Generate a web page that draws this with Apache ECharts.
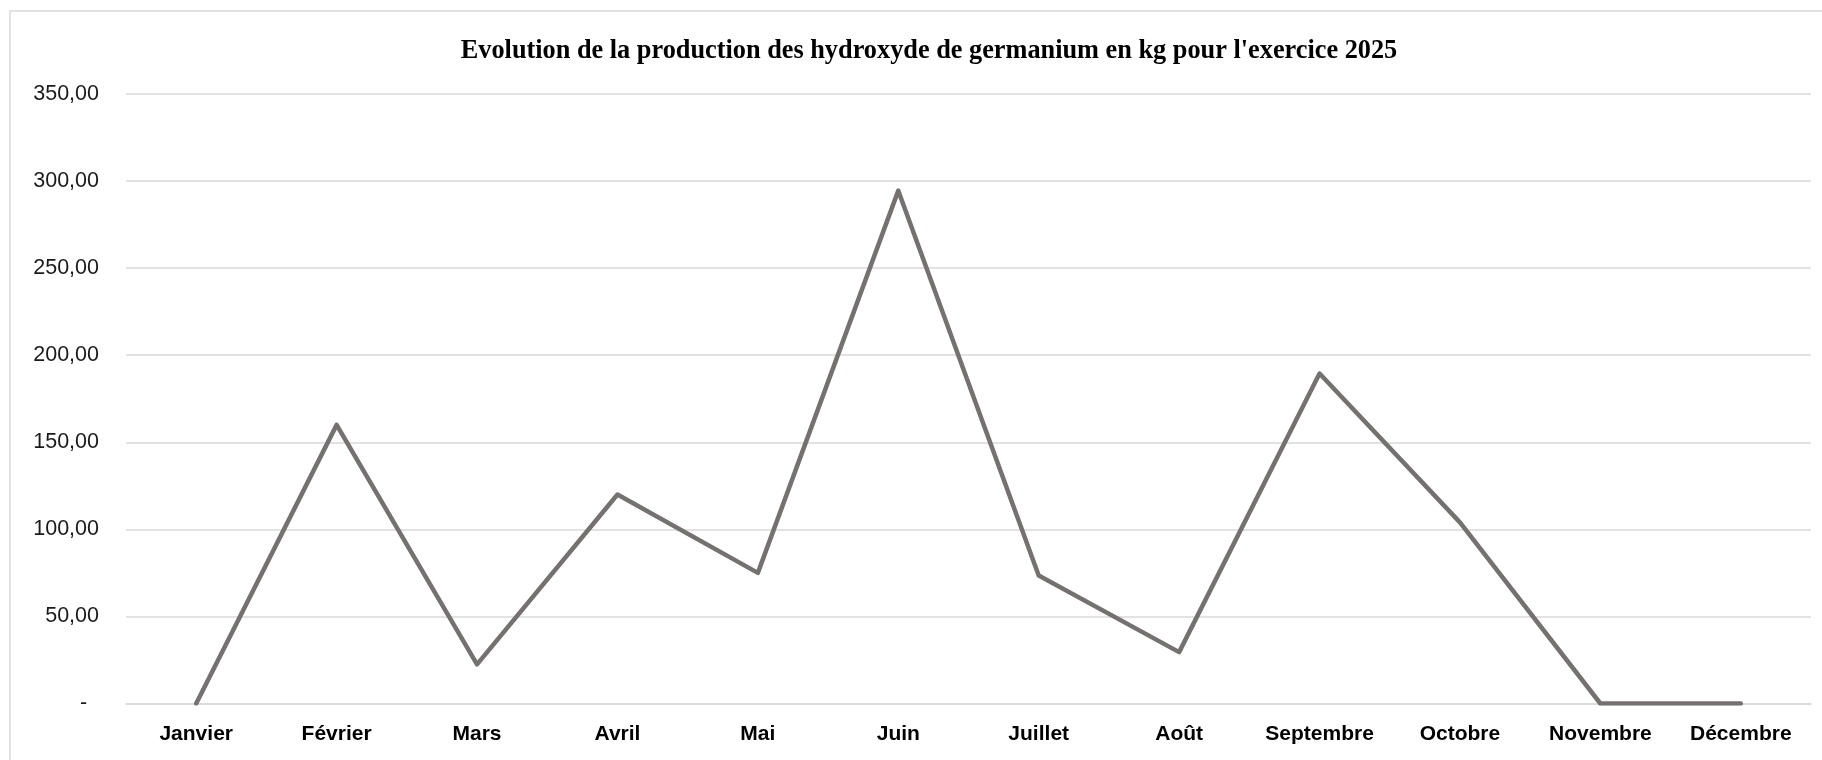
<!DOCTYPE html>
<html>
<head>
<meta charset="utf-8">
<script src="https://cdn.jsdelivr.net/npm/echarts@6/dist/echarts.min.js"></script>
<style>
  html, body { margin: 0; padding: 0; background: #fff; }
  #chart { width: 1822px; height: 760px; }
</style>
</head>
<body>
<div id="chart"></div>
<script>
// donnees
var titre = "Evolution de la production des hydroxyde de germanium en kg pour l'exercice 2025";
var mois = ['Janvier', 'Février', 'Mars', 'Avril', 'Mai', 'Juin', 'Juillet', 'Août', 'Septembre', 'Octobre', 'Novembre', 'Décembre'];
var production = [0, 160, 22.5, 120, 75, 294.5, 73.5, 29.5, 189.5, 104, 0, 0];
var yMin = 0, yMax = 350, yPas = 50;

var chart = echarts.init(document.getElementById('chart'));

// format comptable : zero affiche "-"
function formatKg(v) {
    if (v === 0) return '-  ';
    return v.toFixed(2).replace('.', ',');
}

var options = {
    animation: false,
    backgroundColor: '#fff',
    title: {
        text: titre,
        left: 924,
        top: 33,
        textAlign: 'center',
        textStyle: {
            fontFamily: 'Liberation Serif',
            fontWeight: 'bold',
            fontSize: 26.3,
            color: '#000'
        }
    },
    graphic: [{
        type: 'rect',
        shape: { x: 10, y: 11, width: 1830, height: 800 },
        style: { fill: 'none', stroke: '#d9d9d9', lineWidth: 1.5 },
        silent: true
    }],
    grid: {
        left: 126,
        right: 11,
        top: 94,
        bottom: 56.5
    },
    xAxis: {
        type: 'category',
        data: mois,
        boundaryGap: true,
        axisLine: { lineStyle: { color: '#d9d9d9', width: 1.5 } },
        axisTick: { show: false },
        axisLabel: {
            interval: 0,
            margin: 20,
            fontFamily: 'Liberation Sans',
            fontWeight: 'bold',
            fontSize: 21,
            color: '#000'
        }
    },
    yAxis: {
        type: 'value',
        min: yMin,
        max: yMax,
        interval: yPas,
        axisLine: { show: false },
        axisTick: { show: false },
        splitLine: { lineStyle: { color: '#d9d9d9', width: 1.5 } },
        axisLabel: {
            margin: 27,
            fontFamily: 'Liberation Sans',
            fontSize: 21.5,
            color: '#1a1a1a',
            formatter: formatKg
        }
    },
    series: [{
        type: 'line',
        data: production,
        symbol: 'none',
        lineStyle: { color: '#767171', width: 4.5, cap: 'round', join: 'round' }
    }]
};

chart.setOption(options);
</script>
</body>
</html>
